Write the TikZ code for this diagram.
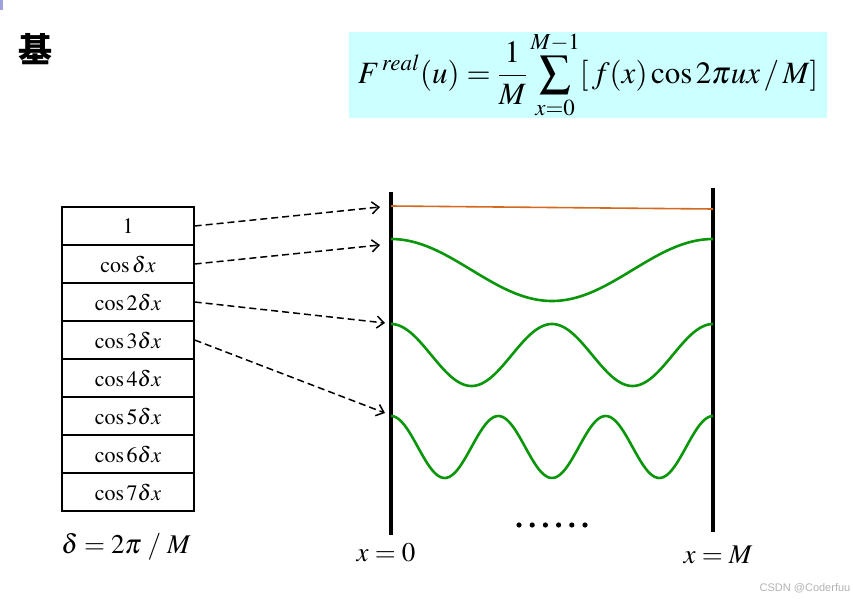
\documentclass[tikz,border=0pt]{standalone}
\usepackage{mathptmx}
\usepackage[no-math]{fontspec}
\setmainfont{Liberation Serif}
\newfontfamily\cjk{Noto Sans CJK SC}
\newfontfamily\wmfont{Liberation Sans}
\usepackage{tikz}
\usetikzlibrary{arrows.meta}

\definecolor{wavegreen}{RGB}{10,150,10}
\definecolor{flatorange}{RGB}{210,105,30}
\definecolor{boxcyan}{RGB}{204,255,255}
\definecolor{markviolet}{RGB}{160,160,220}

\tikzset{
    cell/.style={draw, line width=1.3pt, minimum width=132pt, minimum height=38pt,
        inner sep=0pt, font=\fontsize{22}{26}\selectfont},
    basisarrow/.style={-{Straight Barb[length=7pt, width=12pt]}, line width=1.5pt, dash pattern=on 7pt off 4pt},
    bar/.style={line width=3.6pt},
    wave/.style={wavegreen, line width=2.6pt},
    biglabel/.style={font=\fontsize{27}{30}\selectfont}
}

\begin{document}
\begin{tikzpicture}[x=1pt, y=-1pt]
    \useasboundingbox (0,0) rectangle (853,604);

    % Corner mark and title character
    \fill[markviolet] (0,0) rectangle (3,10);
    \node (title) at (35,49) {\cjk\bfseries\fontsize{34}{34}\selectfont 基};

    % Formula on the cyan panel
    \node[fill=boxcyan, minimum width=478pt, minimum height=86pt, inner sep=0pt] (formula) at (588,75)
        {\fontsize{31}{34}\selectfont $\displaystyle F^{\,real}(u)=\frac{1}{M}\sum_{x=0}^{M-1}[\,f(x)\cos 2\pi ux\,/\,M]$};

    % Table of basis functions
    \foreach \i/\lbl in {0/$1$, 1/$\cos\delta x$, 2/$\cos 2\delta x$, 3/$\cos 3\delta x$,
        4/$\cos 4\delta x$, 5/$\cos 5\delta x$, 6/$\cos 6\delta x$, 7/$\cos 7\delta x$} {
        \node[cell] (row\i) at (128,{226+38*\i}) {\lbl};
    }
    \node[biglabel] (delta) at (126,547) {$\delta = 2\pi\;/\;M$};

    % Interval borders
    \coordinate (ltop) at (391,192);
    \coordinate (lbot) at (391,535);
    \coordinate (rtop) at (713,188);
    \coordinate (rbot) at (713,532);
    \draw[bar] (ltop) -- (lbot);
    \draw[bar] (rtop) -- (rbot);

    % Constant basis
    \coordinate (cleft) at (391,206);
    \coordinate (cright) at (713,209);
    \draw[flatorange, line width=1.6pt] (cleft) -- (cright);

    % Cosine waves
    \foreach \k/\ymid in {1/270, 2/355, 3/447} {
        \draw[wave] plot[domain=0:360, samples=150, smooth] ({391+0.894444*\x},{\ymid-31*cos(\k*\x)});
    }

    % Dashed arrows from table to curves
    \foreach \i/\tx/\ty in {0/380/207, 1/380/245, 2/385/323, 3/385/413} {
        \coordinate (tip\i) at (\tx,\ty);
        \draw[basisarrow] (row\i.east) -- (tip\i);
    }

    % More waves follow
    \foreach \d in {0,...,5} {
        \fill ({519+13.2*\d},525) circle (2.6pt);
    }

    % Interval ends
    \node[biglabel] (xzero) at (386,553) {$x=0$};
    \node[biglabel] (xend) at (718,555) {$x=M$};

    % Watermark
    \node[gray!60, font=\wmfont\fontsize{11}{13}\selectfont] (mark) at (805,588) {CSDN @Coderfuu};
\end{tikzpicture}
\end{document}
